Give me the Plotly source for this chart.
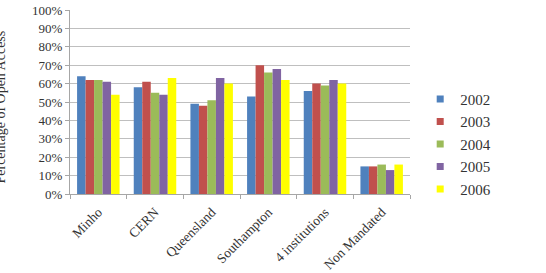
import plotly.graph_objects as go

categories = ["Minho", "CERN", "Queensland", "Southampton", "4 institutions", "Non Mandated"]
years = ["2002", "2003", "2004", "2005", "2006"]
v2002 = [64, 58, 49, 53, 56, 15]
v2003 = [62, 61, 48, 70, 60, 15]
v2004 = [62, 55, 51, 66, 59, 16]
v2005 = [61, 54, 63, 68, 62, 13]
v2006 = [54, 63, 60, 62, 60, 16]
series = [v2002, v2003, v2004, v2005, v2006]
colors = ["#4F81BD", "#C0504D", "#9BBB59", "#8064A2", "#FFFF00"]

FONT = "Liberation Serif"
TXT = "#333333"

fig = go.Figure()
for name, vals, col in zip(years, series, colors):
    fig.add_trace(go.Bar(x=categories, y=vals, name=name, marker_color=col,
                         marker_line_width=0, showlegend=False))
for name, col in zip(years, colors):
    fig.add_trace(go.Scatter(x=[None], y=[None], mode="markers", name=name,
                             marker=dict(symbol="square", size=7, color=col)))

fig.update_layout(
    width=546, height=273,
    margin=dict(l=70, r=136, t=10, b=79, autoexpand=False),
    paper_bgcolor="white", plot_bgcolor="white",
    barmode="group", bargap=0.25, bargroupgap=0,
    font=dict(family=FONT, size=13, color=TXT),
    legend=dict(x=1.03, y=0.27, xanchor="left", yanchor="middle",
                font=dict(family=FONT, size=15, color=TXT),
                itemwidth=30, tracegroupgap=0),
    xaxis=dict(type="category", tickangle=-45, showgrid=False, automargin=False,
               showline=True, linecolor="#a6a6a6", linewidth=1,
               ticks="outside", ticklen=4, tickcolor="#a6a6a6", tickson="boundaries",
               ticklabelstandoff=4,
               tickfont=dict(family=FONT, size=13.5, color=TXT)),
    yaxis=dict(range=[0, 100], dtick=10, ticksuffix="%", automargin=False,
               showgrid=True, gridcolor="#bfbfbf", gridwidth=1,
               showline=True, linecolor="#a6a6a6", linewidth=1,
               ticks="outside", ticklen=4, tickcolor="#a6a6a6",
               zeroline=False,
               tickfont=dict(family=FONT, size=13, color=TXT)),
    annotations=[dict(text="Percentage of Open Access", xref="paper", yref="paper",
                      x=-70 / 340, y=0.47, xanchor="center", yanchor="middle",
                      xshift=1, textangle=-90, showarrow=False,
                      font=dict(family=FONT, size=14, color=TXT))],
)

fig.write_html("out.html")
